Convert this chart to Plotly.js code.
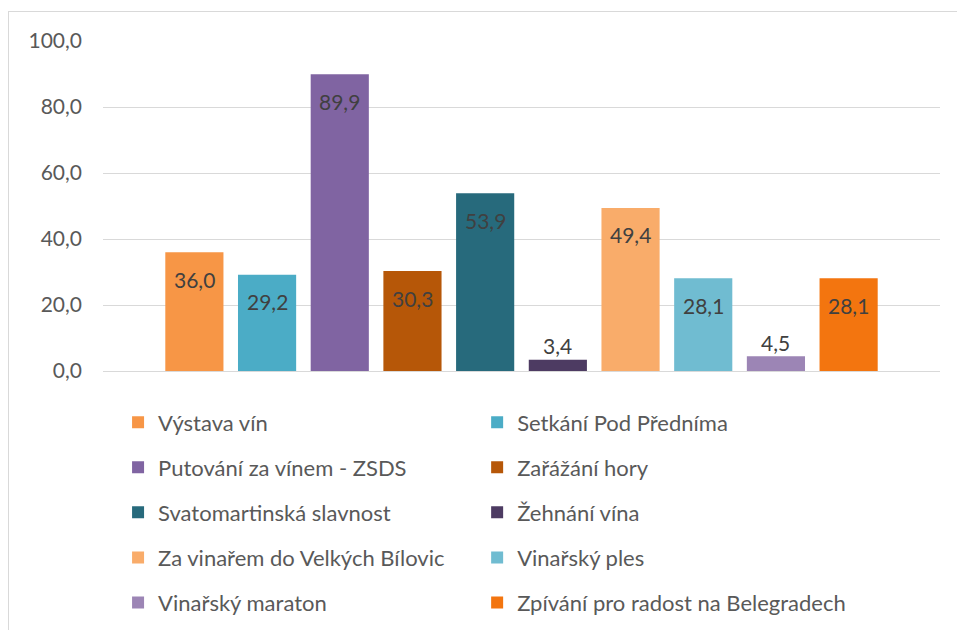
<!DOCTYPE html>
<html>
<head>
<meta charset="utf-8">
<script src="https://cdn.plot.ly/plotly-3.0.1.min.js"></script>
<style>
html,body{margin:0;padding:0;background:#fff;}
#wrap{position:relative;width:957px;height:630px;overflow:hidden;}
#chart{position:absolute;left:0;top:0;width:957px;height:630px;}
#frame{position:absolute;left:8px;top:11px;width:960px;height:640px;border:1.5px solid #D9D9D9;box-sizing:border-box;pointer-events:none;}
</style>
</head>
<body>
<div id="wrap"><div id="chart"></div><div id="frame"></div></div>
<script>
const names = [
  "Výstava vín",
  "Setkání Pod Předníma",
  "Putování za vínem - ZSDS",
  "Zařážání hory",
  "Svatomartinská slavnost",
  "Žehnání vína",
  "Za vinařem do Velkých Bílovic",
  "Vinařský ples",
  "Vinařský maraton",
  "Zpívání pro radost na Belegradech"
];
const values = [36.0, 29.2, 89.9, 30.3, 53.9, 3.4, 49.4, 28.1, 4.5, 28.1];
const colors = ["#F79646", "#4BACC6", "#8064A2", "#B65708", "#276A7C",
                "#4D3B62", "#F9AC6A", "#70BCD1", "#9C85B5", "#F3750F"];
const yTicks = [0, 20, 40, 60, 80, 100];

const FONT = "Lato, 'Open Sans', sans-serif";
const FS = 21;

const traces = names.map((n, i) => ({
  type: "bar",
  name: n,
  x: [n],
  y: [values[i]],
  width: 0.8,
  marker: {color: colors[i], line: {width: 0}},
  legend: i % 2 === 0 ? "legend" : "legend2",
  legendgroup: "g" + i,
  hoverinfo: "skip"
}));

const annotations = names.map((n, i) => ({
  x: n, y: values[i], xref: "x", yref: "y",
  text: values[i].toFixed(1).replace(".", ","),
  showarrow: false,
  yshift: values[i] < 10 ? 14 : -27,
  font: {family: FONT, size: FS, color: "#404040"}
}));

const legendBase = {
  orientation: "v",
  xanchor: "left", yanchor: "top",
  y: -0.092,
  font: {family: FONT, size: 22, color: "#595959"},
  bgcolor: "rgba(0,0,0,0)",
  tracegroupgap: 13.5,
  itemwidth: 30,
  traceorder: "grouped"
};

const layout = {
  width: 957, height: 630,
  margin: {l: 103, r: 17, t: 41, b: 259, autoexpand: false},
  paper_bgcolor: "#fff", plot_bgcolor: "#fff",
  separators: ", ",
  barmode: "overlay",
  showlegend: true,
  xaxis: {
    type: "category",
    range: [-1.257, 10.257],
    showticklabels: false, showgrid: false, zeroline: false, showline: false,
    fixedrange: true
  },
  yaxis: {
    range: [0, 100],
    tickvals: yTicks,
    tickformat: ".1f",
    gridcolor: "#D9D9D9", gridwidth: 1,
    zeroline: true, zerolinecolor: "#D9D9D9", zerolinewidth: 1,
    showline: false,
    ticks: "",
    ticklabelstandoff: 20,
    tickfont: {family: FONT, size: FS, color: "#595959"},
    fixedrange: true
  },
  legend: Object.assign({}, legendBase, {x: 0.018}),
  legend2: Object.assign({}, legendBase, {x: 0.447}),
  annotations: annotations
};

Plotly.newPlot("chart", traces, layout, {displayModeBar: false, staticPlot: true});
</script>
</body>
</html>
